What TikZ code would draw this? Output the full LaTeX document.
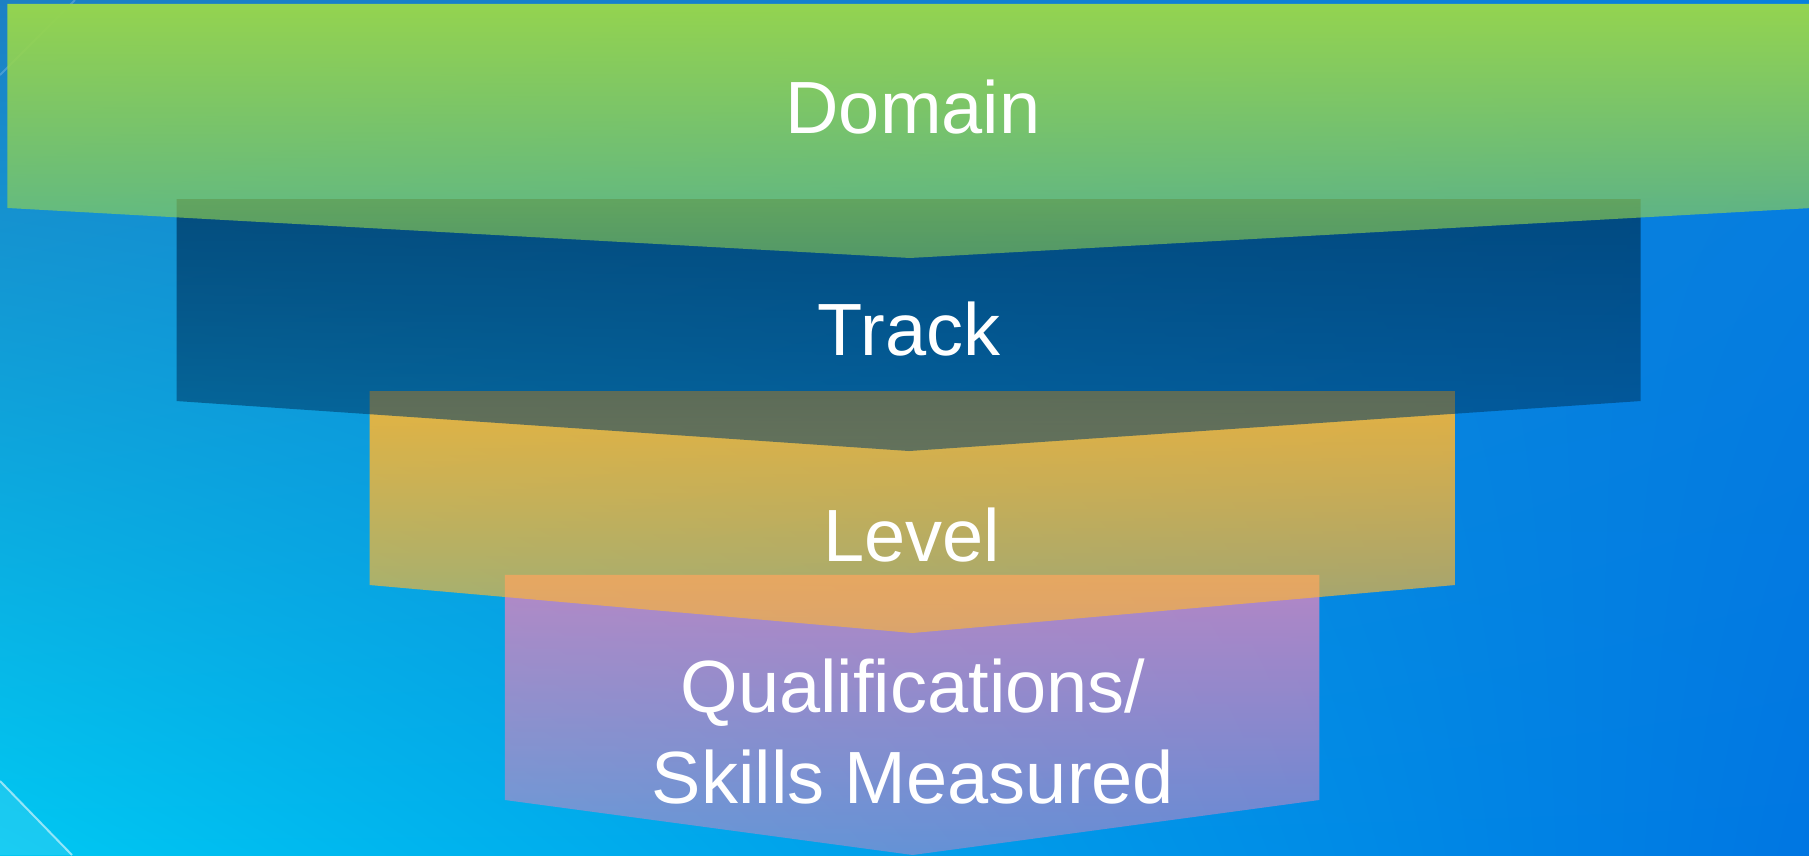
\documentclass[tikz,border=0pt]{standalone}
\usepackage{fontspec}
\setmainfont{Liberation Sans}
\usetikzlibrary{
    fadings,
    shadings,
    positioning,
}

\definecolor{bgtl}{RGB}{28,128,196}
\definecolor{bgtr}{RGB}{8,128,222}
\definecolor{bgbl}{RGB}{0,200,242}
\definecolor{bgbr}{RGB}{0,118,226}
\definecolor{domaingreen}{RGB}{148,212,80}
\definecolor{tracknavy}{RGB}{0,60,105}
\definecolor{levelgold}{RGB}{255,183,48}
\definecolor{qualpurple}{RGB}{200,135,195}

\tikzfading[name=fadedomain, top color=transparent!0, bottom color=transparent!45]
\tikzfading[name=fadetrack, top color=transparent!20, bottom color=transparent!47]
\tikzfading[name=fadelevel, top color=transparent!10, bottom color=transparent!40]
\tikzfading[name=fadequal, top color=transparent!10, bottom color=transparent!50]

\begin{document}
\begin{tikzpicture}[
    x=1pt, y=-1pt,
    stagetext/.style={text=white, anchor=base, inner sep=0pt, align=center,
                font=\fontsize{74}{91}\selectfont},
    funnel/.style={draw=none, fit fading=true},
    domainshape/.style={funnel, fill=domaingreen, path fading=fadedomain},
    trackshape/.style={funnel, fill=tracknavy, path fading=fadetrack},
    levelshape/.style={funnel, fill=levelgold, path fading=fadelevel},
    qualshape/.style={funnel, fill=qualpurple, path fading=fadequal},
    streak/.style={draw=white, line width=2pt},
]

\useasboundingbox (0,0) rectangle (1809,855);
\clip (0,0) rectangle (1809,855);
\shade[shading=bilinear interpolation, upper left=bgtl, upper right=bgtr, lower left=bgbl, lower right=bgbr] (0,0) rectangle (1809,855);
\fill[white, opacity=0.1] (0,781) -- (72,855) -- (0,855) -- cycle;
\draw[streak, opacity=0.55] (0,781) -- (72,855);
\draw[streak, opacity=0.2] (0,75) -- (75,0);

\fill[qualshape] (505,575) -- (1320,575) -- (1320,800) -- (913,855) -- (505,800) -- cycle;
\fill[levelshape] (370,391) -- (1456,391) -- (1456,585) -- (913,633) -- (370,585) -- cycle;
\fill[trackshape] (177,199) -- (1642,199) -- (1642,401) -- (910,451) -- (177,401) -- cycle;
\fill[domainshape] (9,4) -- (1817,4) -- (1817,208) -- (913,258) -- (9,208) -- cycle;

\node[stagetext] at (913,133) (domain) {Domain};
\node[stagetext] at (909,355) (track) {Track};
\node[stagetext] at (912,561) (level) {Level};
\node[stagetext] at (913,803) (qual) {Qualifications/\\Skills Measured};

\end{tikzpicture}
\end{document}
